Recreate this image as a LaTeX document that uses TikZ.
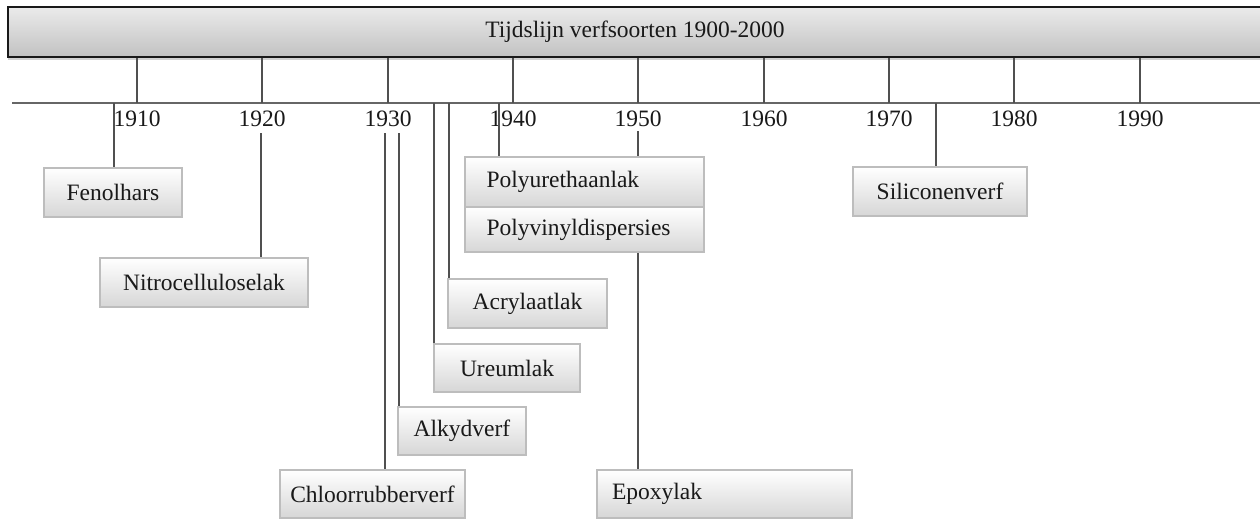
\documentclass[tikz,border=0pt]{standalone}
\usepackage{fontspec}
\setmainfont{Liberation Serif}
\usetikzlibrary{shadows}
\definecolor{linec}{HTML}{505050}
\definecolor{boxedge}{HTML}{BDBDBD}
\begin{document}
\begin{tikzpicture}[x=1pt,y=-1pt,
  every node/.style={font=\fontsize{23.5}{27}\selectfont, text=black!90},
  conn/.style={draw=linec, line width=1.3pt},
  tick/.style={draw=linec, line width=1.3pt},
  yearlbl/.style={inner sep=0pt},
  pbox/.style={draw=boxedge, line width=1.3pt, top color=white, bottom color=black!16,
    minimum height=48pt, inner sep=0pt},
  titlebar/.style={draw=black!90, line width=2.4pt, top color=black!8, bottom color=black!24,
    minimum width=1254pt, minimum height=50pt, inner sep=0pt,
    drop shadow={opacity=0.35, shadow xshift=0pt, shadow yshift=-2.5pt}}
]
\useasboundingbox (0,0) rectangle (1260,520);
\fill[white] (0,0) rectangle (1260,520);

% title bar
\node[titlebar] (title) at (635,32) {Tijdslijn verfsoorten 1900-2000};

% axis
\coordinate (axL) at (12,103);
\coordinate (axR) at (1262,103);
\draw[draw=black!60, line width=1.8pt] (axL) -- (axR);

% ticks and year labels
\foreach \yr/\xx in {1910/137,1920/262,1930/388,1940/513,1950/638,1960/764,1970/889,1980/1014,1990/1140}{
  \coordinate (t\yr) at (\xx,103);
  \draw[tick] (title.south -| t\yr) -- (t\yr);
  \node[yearlbl] (y\yr) at (\xx,118.5) {\yr};
}

% connector start points
\coordinate (sFen) at (114,103);
\coordinate (sNit) at (261,133);
\coordinate (sChl) at (385,133);
\coordinate (sAlk) at (399,133);
\coordinate (sUre) at (434,103);
\coordinate (sAcr) at (449,103);
\coordinate (sPur) at (499,103);
\coordinate (sEpo) at (638,131);
\coordinate (sSil) at (936,103);

% boxes (positions)
\path
  (113,192.5) coordinate (pFen)
  (204,282.5) coordinate (pNit)
  (372.5,494) coordinate (pChl)
  (462,431) coordinate (pAlk)
  (507,368) coordinate (pUre)
  (527.5,303.5) coordinate (pAcr)
  (584.5,182) coordinate (pPur)
  (584.5,229.5) coordinate (pPvd)
  (724.5,494) coordinate (pEpo)
  (940,191.5) coordinate (pSil);

% invisible reference nodes for connector ends
\path
  node[minimum width=138pt, minimum height=49pt, inner sep=0pt] (rFen) at (pFen) {}
  node[minimum width=208pt, minimum height=49pt, inner sep=0pt] (rNit) at (pNit) {}
  node[minimum width=185pt, minimum height=48pt, inner sep=0pt] (rChl) at (pChl) {}
  node[minimum width=128pt, minimum height=48pt, inner sep=0pt] (rAlk) at (pAlk) {}
  node[minimum width=146pt, minimum height=48pt, inner sep=0pt] (rUre) at (pUre) {}
  node[minimum width=159pt, minimum height=49pt, inner sep=0pt] (rAcr) at (pAcr) {}
  node[minimum width=239pt, minimum height=50pt, inner sep=0pt] (rPur) at (pPur) {}
  node[minimum width=255pt, minimum height=48pt, inner sep=0pt] (rEpo) at (pEpo) {}
  node[minimum width=174pt, minimum height=49pt, inner sep=0pt] (rSil) at (pSil) {};

% connectors
\draw[conn] (sFen) -- (sFen |- rFen.north);
\draw[conn] (sNit) -- (sNit |- rNit.north);
\draw[conn] (sChl) -- (sChl |- rChl.north);
\draw[conn] (sAlk) -- (sAlk |- rAlk.north);
\draw[conn] (sUre) -- (sUre |- rUre.north);
\draw[conn] (sAcr) -- (sAcr |- rAcr.north);
\draw[conn] (sPur) -- (sPur |- rPur.north);
\draw[conn] (sEpo) -- (sEpo |- rEpo.north);
\draw[conn] (sSil) -- (sSil |- rSil.north);

% boxes
\node[pbox, minimum width=138pt, minimum height=49pt] (fen) at (pFen) {Fenolhars};
\node[pbox, minimum width=208pt, minimum height=49pt] (nit) at (pNit) {Nitrocelluloselak};
\node[pbox, minimum width=185pt] (chl) at (pChl) {Chloorrubberverf};
\node[pbox, minimum width=128pt] (alk) at (pAlk) {Alkydverf};
\node[pbox, minimum width=146pt] (ure) at (pUre) {Ureumlak};
\node[pbox, minimum width=159pt, minimum height=49pt] (acr) at (pAcr) {Acrylaatlak};
\node[pbox, minimum width=239pt, minimum height=50pt, text width=196pt, align=left] (pur) at (pPur) {Polyurethaanlak};
\node[pbox, minimum width=239pt, minimum height=45pt, text width=196pt, align=left] (pvd) at (pPvd) {Polyvinyldispersies};
\node[pbox, minimum width=255pt, text width=225pt, align=left] (epo) at (pEpo) {Epoxylak};
\node[pbox, minimum width=174pt, minimum height=49pt] (sil) at (pSil) {Siliconenverf};
\end{tikzpicture}
\end{document}
